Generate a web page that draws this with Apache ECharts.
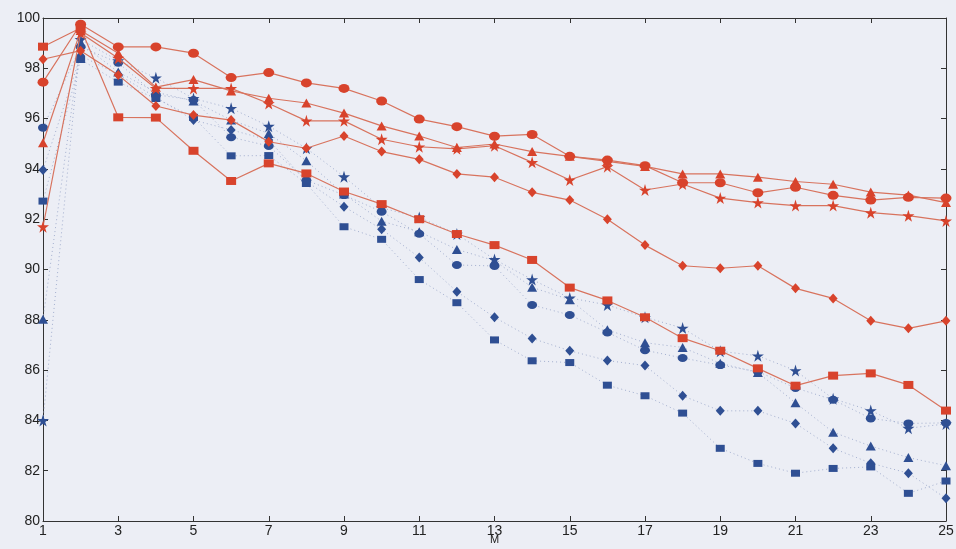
<!DOCTYPE html>
<html>
<head>
<meta charset="utf-8">
<script src="https://cdn.jsdelivr.net/npm/echarts@6/dist/echarts.min.js"></script>
<style>
html,body{margin:0;padding:0;background:#eceef5;}
#chart{width:956px;height:549px;}
</style>
</head>
<body>
<div id="chart"></div>
<script>
const xValues = [1,2,3,4,5,6,7,8,9,10,11,12,13,14,15,16,17,18,19,20,21,22,23,24,25];
const xTickLabels = [1,3,5,7,9,11,13,15,17,19,21,23,25];
const yTickLabels = [80,82,84,86,88,90,92,94,96,98,100];

const redCircle   = [97.45,99.75,98.85,98.85,98.6,97.63,97.83,97.42,97.2,96.7,95.98,95.68,95.3,95.37,94.5,94.35,94.13,93.45,93.45,93.05,93.27,92.95,92.76,92.87,92.84];
const redTriangle = [95.04,99.5,98.6,97.25,97.55,97.1,96.81,96.62,96.22,95.71,95.31,94.85,94.99,94.69,94.5,94.3,94.1,93.8,93.8,93.67,93.5,93.39,93.08,92.96,92.66];
const redStar     = [91.7,99.4,98.4,97.2,97.2,97.2,96.6,95.91,95.91,95.18,94.88,94.8,94.92,94.26,93.56,94.09,93.16,93.4,92.84,92.66,92.54,92.54,92.26,92.14,91.93];
const redDiamond  = [98.36,98.7,97.73,96.5,96.14,95.94,95.08,94.82,95.31,94.69,94.38,93.8,93.67,93.07,92.76,92.0,90.97,90.15,90.05,90.15,89.25,88.85,87.96,87.66,87.96];
const redSquare   = [98.86,99.6,96.05,96.04,94.72,93.52,94.22,93.82,93.1,92.6,92.0,91.41,90.97,90.38,89.28,88.77,88.1,87.27,86.77,86.07,85.38,85.78,85.87,85.41,84.39];

const blueStar     = [84.0,99.15,98.3,97.62,96.8,96.41,95.7,94.82,93.69,92.45,92.07,91.41,90.4,89.6,88.87,88.59,88.1,87.67,86.75,86.57,85.98,84.86,84.39,83.69,83.86];
const blueTriangle = [88.02,99.0,97.85,97.05,96.7,95.94,95.41,94.32,93.0,91.92,91.5,90.8,90.35,89.29,88.8,87.6,87.09,86.9,86.27,85.9,84.7,83.53,82.98,82.52,82.2];
const blueCircle   = [95.64,98.85,98.22,96.95,96.74,95.26,94.91,93.55,92.96,92.3,91.42,90.18,90.14,88.59,88.19,87.5,86.79,86.48,86.2,85.94,85.29,84.82,84.08,83.88,83.9];
const blueDiamond  = [93.96,98.5,97.75,96.85,95.94,95.55,95.15,93.5,92.5,91.6,90.48,89.12,88.1,87.26,86.77,86.38,86.18,84.98,84.38,84.38,83.88,82.89,82.3,81.9,80.9];
const blueSquare   = [92.72,98.35,97.45,96.8,96.05,94.52,94.53,93.42,91.7,91.2,89.6,88.68,87.2,86.37,86.3,85.4,84.98,84.29,82.89,82.29,81.9,82.09,82.15,81.1,81.59];

const STAR = 'path://M50,0 L61,35 L98,35 L68,57 L79,91 L50,70 L21,91 L32,57 L2,35 L39,35 Z';
const RED = '#d8432c', RED_LINE = '#d8735e';
const BLUE = '#2f4f93', BLUE_LINE = '#a3afcf';

function pairs(arr){ return xValues.map((x,i)=>[x,arr[i]]); }

function redSeries(name, arr, symbol, size){
  return {name, type:'line', data:pairs(arr), symbol, symbolSize:size, z:5,
    lineStyle:{color:RED_LINE,width:1.2}, itemStyle:{color:RED}};
}
function blueSeries(name, arr, symbol, size){
  return {name, type:'line', data:pairs(arr), symbol, symbolSize:size, z:3,
    lineStyle:{color:BLUE_LINE,width:1,type:[1,3]}, itemStyle:{color:BLUE}};
}

const axisFont = {fontFamily:'Liberation Sans, Arial, sans-serif', fontSize:14, color:'#222'};
const chart = echarts.init(document.getElementById('chart'));
chart.setOption({
  backgroundColor:'#eceef5',
  animation:false,
  grid:{left:43,right:10,top:18,bottom:28,outerBoundsMode:'none',containLabel:false},
  xAxis:[{
    type:'value', min:1, max:25, interval:2,
    name:'M', nameLocation:'middle', nameGap:19, nameMoveOverlap:false,
    nameTextStyle:{fontFamily:'Liberation Sans, Arial, sans-serif',fontSize:11,color:'#222',verticalAlign:'middle'},
    axisLine:{show:true,onZero:false,lineStyle:{color:'#333',width:1}},
    axisTick:{show:true,inside:true,length:5,lineStyle:{color:'#333'}},
    axisLabel:Object.assign({margin:3, formatter:v=>xTickLabels.includes(v)?String(v):''},axisFont),
    splitLine:{show:false}
  },{
    type:'value', min:1, max:25, interval:2, position:'top',
    axisLine:{show:true,onZero:false,lineStyle:{color:'#333',width:1}},
    axisTick:{show:true,inside:true,length:5,lineStyle:{color:'#333'}},
    axisLabel:{show:false}, splitLine:{show:false}
  }],
  yAxis:[{
    type:'value', min:80, max:100, interval:2,
    axisLine:{show:true,onZero:false,lineStyle:{color:'#333',width:1}},
    axisTick:{show:true,inside:true,length:5,lineStyle:{color:'#333'}},
    axisLabel:Object.assign({margin:3, formatter:v=>yTickLabels.includes(v)?String(v):''},axisFont),
    splitLine:{show:false}
  },{
    type:'value', min:80, max:100, interval:2, position:'right',
    axisLine:{show:true,onZero:false,lineStyle:{color:'#333',width:1}},
    axisTick:{show:true,inside:true,length:5,lineStyle:{color:'#333'}},
    axisLabel:{show:false}, splitLine:{show:false}
  }],
  series:[
    blueSeries('blueStar', blueStar, STAR, 12),
    blueSeries('blueTriangle', blueTriangle, 'triangle', [10,9]),
    blueSeries('blueCircle', blueCircle, 'circle', [10,8]),
    blueSeries('blueDiamond', blueDiamond, 'diamond', [9,10]),
    blueSeries('blueSquare', blueSquare, 'rect', [9,7]),
    redSeries('redCircle', redCircle, 'circle', [11,9]),
    redSeries('redTriangle', redTriangle, 'triangle', [10,9]),
    redSeries('redStar', redStar, STAR, 12),
    redSeries('redDiamond', redDiamond, 'diamond', [9,10]),
    redSeries('redSquare', redSquare, 'rect', [10,8])
  ]
});
</script>
</body>
</html>
